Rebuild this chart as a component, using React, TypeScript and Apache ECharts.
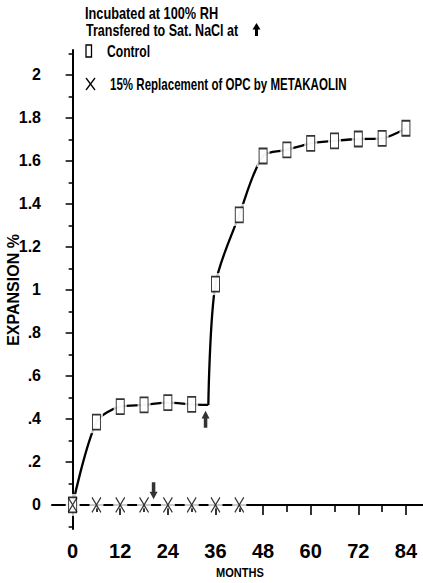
import React, { useEffect, useRef } from "react";
import * as echarts from "echarts";

const months = [0, 6, 12, 18, 24, 30, 36, 42, 48, 54, 60, 66, 72, 78, 84];
const controlValues = [0, 0.385, 0.457, 0.465, 0.476, 0.468, 1.027, 1.349, 1.623, 1.651, 1.682, 1.693, 1.702, 1.705, 1.752];
const metaMonths = [0, 6, 12, 18, 24, 30, 36, 42];
const metaValues = [0, 0, 0, 0, 0, 0, 0, 0];
const transferPoint = [34.2, 0.465];
const arrowUpPoint = [33.5, 0.398];
const arrowDownPoint = [20.4, 0.066];

const yMajorTicks = [0, 0.2, 0.4, 0.6, 0.8, 1, 1.2, 1.4, 1.6, 1.8, 2];
const yTickLabels = ["0", ".2", ".4", ".6", ".8", "1", "1.2", "1.4", "1.6", "1.8", "2"];
const yMinorTicks = [-0.1, 0.1, 0.3, 0.5, 0.7, 0.9, 1.1, 1.3, 1.5, 1.7, 1.9, 2.1];
const xMajorTicks = [0, 12, 24, 36, 48, 60, 72, 84];
const xMinorTicks = [6, 18, 30, 42, 54, 66, 78];

const FONT = "'Liberation Sans', Arial, sans-serif";
const ARROW = "path://M5,0 L10,8 L7.2,8 L7.2,18 L2.8,18 L2.8,8 L0,8 Z";
const XMARK = "path://M0,0 L10,16 M10,0 L0,16";

function label(text: string, x: number, y: number, size: number, sx: number) {
  return {
    type: "text", x, y, scaleX: sx,
    style: { text, x: 0, y: 0, fill: "#000", font: `bold ${size}px ${FONT}`, align: "left", verticalAlign: "middle" },
  };
}

export default function App() {
  const ref = useRef<HTMLDivElement>(null);
  useEffect(() => {
    if (!ref.current) return;
    const chart = echarts.init(ref.current, undefined, { renderer: "svg" });
    const ctrlPts = months.map((m, i) => [m, controlValues[i]]);
    const metaPts = metaMonths.map((m, i) => [m, metaValues[i]]);
    const splitIdx = months.indexOf(36);
    const partA = [...ctrlPts.slice(0, splitIdx), transferPoint];
    const partB = [transferPoint, ...ctrlPts.slice(splitIdx)];
    const yMin = -0.112, yMax = 2.116, xMin = -5.2, xMax = 88.3;
    const axisLine = { show: true, lineStyle: { color: "#000", width: 2 } };
    chart.setOption({
      animation: false,
      backgroundColor: "#fff",
      grid: { left: 52, right: 0, top: 50, bottom: 54, containLabel: false },
      xAxis: [
        {
          type: "value", min: xMin, max: xMax, position: "bottom",
          axisLine,
          axisTick: { show: true, customValues: xMajorTicks, length: 10, lineStyle: { color: "#000", width: 1.6 } },
          axisLabel: { show: true, customValues: xMajorTicks, margin: 12, color: "#000", fontFamily: FONT, fontWeight: "bold", fontSize: 20, formatter: (v: number) => String(Math.round(v)) },
          splitLine: { show: false },
        },
        {
          type: "value", min: xMin, max: xMax, position: "bottom",
          axisLine: { show: false },
          axisTick: { show: true, customValues: xMinorTicks, length: 7, lineStyle: { color: "#000", width: 1.6 } },
          axisLabel: { show: false },
          splitLine: { show: false },
        },
      ],
      yAxis: [
        {
          type: "value", min: yMin, max: yMax, position: "left",
          axisLine,
          axisTick: { show: true, customValues: yMajorTicks, length: 7, lineStyle: { color: "#000", width: 1.5 } },
          axisLabel: {
            show: true, customValues: yMajorTicks, margin: 11, color: "#000", fontFamily: FONT, fontWeight: "bold", fontSize: 16,
            formatter: (v: number) => {
              let best = 0;
              yMajorTicks.forEach((t, i) => { if (Math.abs(t - v) < Math.abs(yMajorTicks[best] - v)) best = i; });
              return yTickLabels[best];
            },
          },
          splitLine: { show: false },
        },
        {
          type: "value", min: yMin, max: yMax, position: "left",
          axisLine: { show: false },
          axisTick: { show: true, customValues: yMinorTicks, length: 4, lineStyle: { color: "#000", width: 1.5 } },
          axisLabel: { show: false },
          splitLine: { show: false },
        },
      ],
      series: [
        { type: "line", data: partA, smooth: 0.3, showSymbol: false, lineStyle: { color: "#000", width: 2.3 }, z: 1 },
        { type: "line", data: partB, smooth: 0.3, showSymbol: false, lineStyle: { color: "#000", width: 2.3 }, z: 1 },
        { type: "line", data: metaPts, showSymbol: false, lineStyle: { color: "#000", width: 2 }, z: 1 },
        { type: "scatter", data: metaPts, symbol: "rect", symbolSize: [14, 7], itemStyle: { color: "#fff" }, z: 2 },
        { type: "scatter", data: ctrlPts, symbol: "rect", symbolSize: [13, 22], itemStyle: { color: "#fff" }, z: 2 },
        { type: "scatter", data: ctrlPts, symbol: "rect", symbolSize: [8, 15], itemStyle: { color: "#fff", borderColor: "#000", borderWidth: 1.3 }, z: 3 },
        { type: "scatter", data: metaPts, symbol: XMARK, symbolSize: [9, 15], itemStyle: { color: "rgba(0,0,0,0)", borderColor: "#000", borderWidth: 1.3 }, z: 4 },
        { type: "scatter", data: [arrowUpPoint], symbol: ARROW, symbolSize: [8, 17], itemStyle: { color: "#000" }, z: 4 },
        { type: "scatter", data: [arrowDownPoint], symbol: ARROW, symbolRotate: 180, symbolSize: [8, 17], itemStyle: { color: "#000" }, z: 4 },
      ],
      graphic: [
        label("Incubated at 100% RH", 85, 13.5, 16.5, 0.773),
        label("Transfered to Sat. NaCl at", 86, 30.5, 16.5, 0.759),
        { type: "polygon", shape: { points: [[252.5, 29.5], [256.5, 23], [260.5, 29.5], [258, 29.5], [258, 36], [255, 36], [255, 29.5]] }, style: { fill: "#000" } },
        { type: "rect", shape: { x: 86, y: 45, width: 5.5, height: 12 }, style: { fill: "#fff", stroke: "#000", lineWidth: 1.3 } },
        label("Control", 107, 51, 16.5, 0.736),
        { type: "line", shape: { x1: 86, y1: 78, x2: 95, y2: 90 }, style: { stroke: "#000", lineWidth: 1.3 } },
        { type: "line", shape: { x1: 95, y1: 78, x2: 86, y2: 90 }, style: { stroke: "#000", lineWidth: 1.3 } },
        label("15% Replacement of OPC by METAKAOLIN", 110, 84, 16.5, 0.70),
        { type: "text", rotation: Math.PI / 2, x: 13.5, y: 290, style: { text: "EXPANSION %", x: 0, y: 0, fill: "#000", font: `bold 16px ${FONT}`, align: "center", verticalAlign: "middle" } },
        { type: "text", x: 240, y: 573, scaleX: 0.85, style: { text: "MONTHS", x: 0, y: 0, fill: "#000", font: `bold 13px ${FONT}`, align: "center", verticalAlign: "middle" } },
      ],
    });
    return () => chart.dispose();
  }, []);
  return <div ref={ref} style={{ position: "fixed", left: 0, top: 0, width: 423, height: 583, background: "#fff" }} />;
}
